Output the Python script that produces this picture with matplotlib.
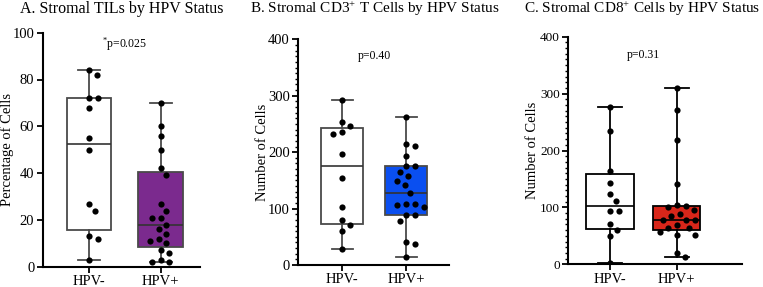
import matplotlib
matplotlib.use('Agg')
import matplotlib.pyplot as plt
from matplotlib.ticker import MultipleLocator
import numpy as np

plt.rcParams['font.family'] = ['Liberation Serif', 'DejaVu Serif']
plt.rcParams['mathtext.fontset'] = 'custom'
plt.rcParams['mathtext.rm'] = 'Liberation Serif'
plt.rcParams['mathtext.it'] = 'Liberation Serif:italic'

groups = ['HPV-', 'HPV+']

tils_neg = [84, 82, 72, 72, 68, 55, 50, 27, 24, 13, 12, 3]
tils_pos = [70, 60, 56, 50, 42, 39, 27, 24, 21, 21, 18, 16, 14, 12, 11, 10, 7, 6, 3, 2, 2]

cd3_neg = [292, 253, 246, 236, 232, 197, 154, 103, 79, 71, 61, 28]
cd3_pos = [262, 214, 211, 193, 176, 176, 164, 157, 149, 142, 128, 108, 108, 106, 103,
           89, 89, 78, 41, 37, 15]

cd8_neg = [276, 234, 164, 143, 123, 111, 94, 94, 70, 60, 50, 2]
cd8_pos = [309, 271, 218, 142, 104, 102, 100, 95, 89, 85, 78, 77, 77, 69, 63, 63,
           56, 51, 51, 20, 13]

titles = ['A. Stromal TILs by HPV Status',
          r'B. Stromal CD3$^{+}$ T Cells by HPV Status',
          r'C. Stromal CD8$^{+}$ Cells by HPV Status']
ylabels = ['Percentage of Cells', 'Number of Cells', 'Number of Cells']
pvals = [r'$^{*}$p=0.025', 'p=0.40', 'p=0.31']
colors = ['#7B2A8E', '#0A4FF0', '#D8261A']

W, H = 763, 287
fig = plt.figure(figsize=(W / 100, H / 100), dpi=100)

# axes boxes in pixels: left, right, bottom(y of 0), top
boxes = [(42.7, 200, 266.7, 32.7), (298.3, 449.3, 265, 39.3), (568.3, 741.7, 264.3, 36.7)]
xlims = [(-0.646, 1.548), (-0.684, 1.67), (-0.625, 1.975)]
ylims = [(0, 100), (0, 400), (0, 400)]
widths = [0.62, 0.65, 0.71]
edges = ['#4a4a4a', '#4a4a4a', 'black']
title_x = [121.5, 375, 642]
title_size = [11.5, 11, 11]
ylabel_x = [7, 263, 533]
pv_y = [95, 370, 368]

data = [(tils_neg, tils_pos), (cd3_neg, cd3_pos), (cd8_neg, cd8_pos)]


def box_stats(vals):
    v = np.array(vals, dtype=float)
    q1, med, q3 = np.percentile(v, [25, 50, 75], method='weibull')
    return dict(med=med, q1=q1, q3=q3, whislo=v.min(), whishi=v.max(), fliers=[])


def swarm(ax, vals, center, d):
    # place points in pixel space, nearest to the centre without overlap
    pts = ax.transData.transform(np.column_stack([np.full(len(vals), center), vals]))
    order = np.argsort(-pts[:, 1])
    placed = []
    xs = np.zeros(len(vals))
    for i in order:
        x0, y0 = pts[i]
        cands = [0.0]
        for (px, py) in placed:
            dy = abs(py - y0)
            if dy < d:
                dx = np.sqrt(d * d - dy * dy)
                cands += [px - x0 + dx, px - x0 - dx]
        cands = sorted(cands, key=abs)
        for c in cands:
            ok = all((x0 + c - px) ** 2 + (y0 - py) ** 2 >= d * d - 1e-6 for px, py in placed)
            if ok:
                break
        placed.append((x0 + c, y0))
        xs[i] = x0 + c
    inv = ax.transData.inverted().transform(np.column_stack([xs, pts[:, 1]]))
    return inv[:, 0]


for k in range(3):
    l, r, b, t = boxes[k]
    ax = fig.add_axes([l / W, 1 - b / H, (r - l) / W, (b - t) / H])
    ax.set_xlim(*xlims[k])
    ax.set_ylim(*ylims[k])
    ec = edges[k]
    stats = [box_stats(data[k][0]), box_stats(data[k][1])]
    bp = ax.bxp(stats, positions=[0, 1], widths=widths[k], patch_artist=True,
                showfliers=False,
                boxprops=dict(edgecolor=ec, linewidth=1.3),
                whiskerprops=dict(color=ec, linewidth=1.3),
                capprops=dict(color=ec, linewidth=1.3),
                medianprops=dict(color='black' if k == 2 else '#333333', linewidth=1.2),
                capwidths=widths[k] / 2)
    bp['boxes'][0].set_facecolor('white')
    bp['boxes'][1].set_facecolor(colors[k])
    for j in range(2):
        xs = swarm(ax, data[k][j], j, 9.0)
        ax.scatter(xs, data[k][j], s=20, color='black', zorder=5, linewidths=0)

    ax.spines['top'].set_visible(False)
    ax.spines['right'].set_visible(False)
    ax.spines['left'].set_linewidth(1.5)
    ax.spines['bottom'].set_linewidth(1.5)
    ax.set_xticks([0, 1])
    ax.set_xticklabels(groups)
    if k == 0:
        ax.yaxis.set_major_locator(MultipleLocator(20))
    else:
        ax.yaxis.set_major_locator(MultipleLocator(100))
        ax.yaxis.set_minor_locator(MultipleLocator(10))
    ax.tick_params(axis='both', which='major', length=4, width=1.3, labelsize=10.5, pad=2)
    ax.tick_params(axis='y', which='minor', length=2.2, width=1.0)
    ax.tick_params(axis='y', labelsize=10.5 if k < 2 else 9.5)
    ax.text(0.5, pv_y[k], pvals[k], ha='center', va='center', fontsize=8.5)
    fig.text(title_x[k] / W, 1 - 9 / H, titles[k], ha='center', va='center',
             fontsize=title_size[k])
    fig.text(ylabel_x[k] / W, 1 - ((b + t) / 2) / H, ylabels[k], rotation=90,
             ha='center', va='center', fontsize=10.5)

fig.savefig('out.png', dpi=100)
